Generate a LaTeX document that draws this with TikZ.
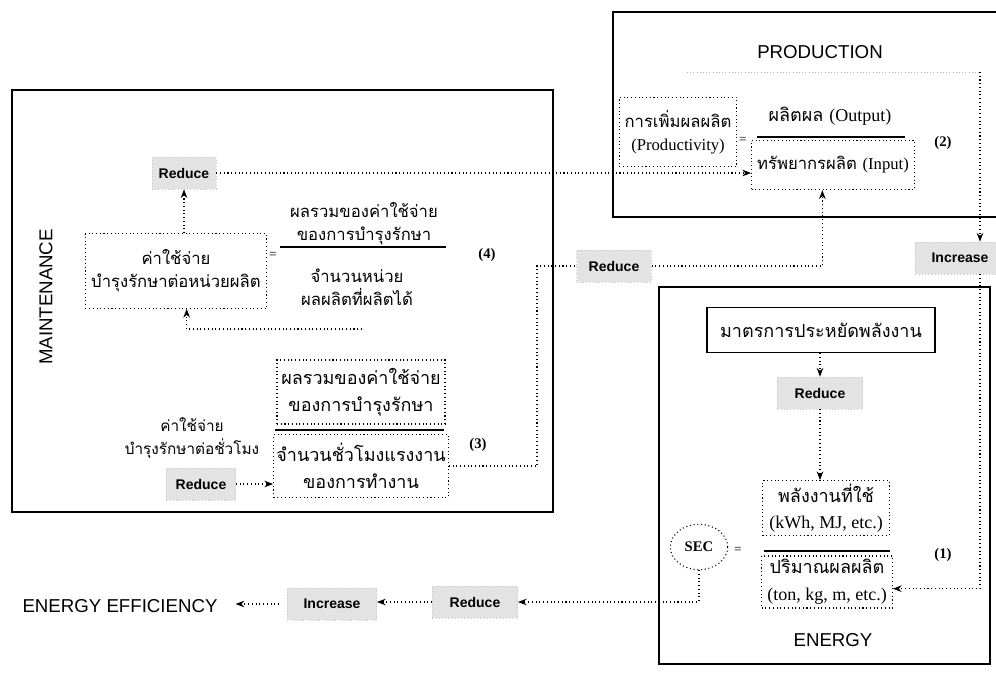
\documentclass[tikz,border=0pt]{standalone}
\usepackage{fontspec}
\setmainfont{Liberation Serif}
\newfontfamily\thai[Script=Thai]{Loma}
\newfontfamily\arial{Liberation Sans}
\usetikzlibrary{arrows.meta,shapes.geometric}
\begin{document}
\begin{tikzpicture}[x=0.75pt, y=-0.75pt, >=Stealth,
    frame/.style={draw, line width=1.2pt},
    title/.style={font=\arial\fontsize{14}{16}\selectfont},
    tag/.style={fill=gray!22, draw=gray!45, dotted, font=\arial\bfseries\fontsize{10.5}{12}\selectfont, minimum height=24pt},
    dbox/.style={draw, dotted, thick, align=center, inner sep=2pt},
    txt/.style={align=center, font=\thai\fontsize{12.5}{17}\selectfont},
    txtl/.style={align=center, font=\thai\fontsize{13.5}{20}\selectfont},
    txts/.style={align=center, font=\thai\fontsize{11.5}{17}\selectfont},
    num/.style={font=\bfseries\fontsize{11}{13}\selectfont},
    link/.style={->, dotted, thick}]
    \useasboundingbox (0,0) rectangle (996,676);

    % Frames
    \draw[frame] (613,12) rectangle (1010,217);
    \draw[frame] (12,90) rectangle (553,512);
    \draw[frame] (659,287) rectangle (990,664);

    % Production
    \node[title] (ptitle) at (820,52) {PRODUCTION};
    \node[dbox, txt, minimum width=88pt, minimum height=52pt] (pvty) at (678,132) {การเพิ่มผลผลิต\\{\rmfamily (Productivity)}};
    \node (peq) at (743,140) {=};
    \node[txtl] (pout) at (830,116) {ผลิตผล {\rmfamily (Output)}};
    \draw[line width=1.5pt] (757,137) -- (905,137);
    \node[dbox, txt, minimum width=122pt, minimum height=37pt] (pin) at (833,165) {ทรัพยากรผลิต {\rmfamily (Input)}};
    \node[num] (pno) at (943,143) {(2)};

    % Maintenance, cost per unit
    \node[title, rotate=90] (mtitle) at (46,297) {MAINTENANCE};
    \node[tag, minimum width=48pt] (mred1) at (184,173) {Reduce};
    \node[dbox, txt, minimum width=136pt, minimum height=56pt] (mcost) at (176,271) {ค่าใช้จ่าย\\บำรุงรักษาต่อหน่วยผลิต};
    \node (meq) at (273,255) {=};
    \node[txt] (mnum4) at (364,224) {ผลรวมของค่าใช้จ่าย\\ของการบำรุงรักษา};
    \draw[line width=1.5pt] (280,247) -- (446,247);
    \node[txt] (mden4) at (357,287) {จำนวนหน่วย\\ผลผลิตที่ผลิตได้};
    \node[num] (mno4) at (487,255) {(4)};
    \coordinate (mloop) at (362,329);
    \draw[link] (mloop) -| ([xshift=8pt]mcost.south);
    \draw[link] (mred1.south |- mcost.north) -- (mred1.south);

    % Maintenance, cost per hour
    \node[dbox, txtl, minimum width=126pt, minimum height=48pt] (mnum3) at (361,392) {ผลรวมของค่าใช้จ่าย\\ของการบำรุงรักษา};
    \draw[line width=1.5pt] (275,430) -- (444,430);
    \node[dbox, txtl, minimum width=130pt, minimum height=47pt] (mden3) at (361,466) {จำนวนชั่วโมงแรงงาน\\ของการทำงาน};
    \node[num] (mno3) at (478,445) {(3)};
    \node[txts] (mhour) at (192,438) {ค่าใช้จ่าย\\บำรุงรักษาต่อชั่วโมง};
    \node[tag, minimum width=52pt] (mred2) at (201,484) {Reduce};
    \draw[link] (mred2) -- (mred2 -| mden3.west);

    % Links to production
    \node[tag, minimum width=56pt] (red2) at (614,266) {Reduce};
    \coordinate (mturn) at (537,266);
    \draw[dotted, thick] (mden3.east) -| (mturn) -- (red2.west);
    \draw[link] (red2.east) -| ([xshift=-8pt]pin.south);
    \draw[link] (mred1.east) -- (mred1.east -| pin.west);

    % Energy
    \node[draw, thick, txtl, minimum width=171pt, minimum height=34pt] (esave) at (821,330) {มาตรการประหยัดพลังงาน};
    \node[tag, minimum width=64pt] (ered) at (820,393) {Reduce};
    \draw[link] (esave.south -| ered) -- (ered.north);
    \node[dbox, txtl, minimum width=95pt, minimum height=41pt] (euse) at (826,508) {พลังงานที่ใช้\\{\rmfamily (kWh, MJ, etc.)}};
    \draw[link] (ered.south) -- (ered.south |- euse.north);
    \draw[line width=1.5pt] (764,551) -- (890,551);
    \node[dbox, txtl, minimum width=98pt, minimum height=39pt] (eqty) at (827,582) {ปริมาณผลผลิต\\{\rmfamily (ton, kg, m, etc.)}};
    \node[num] (eno) at (943,555) {(1)};
    \node[draw, dotted, thick, ellipse, minimum width=43pt, minimum height=34pt, font=\bfseries\fontsize{11}{13}\selectfont] (sec) at (699,547) {SEC};
    \node (eeq) at (738,550) {=};
    \node[title] (etitle) at (833,640) {ENERGY};

    % Output increase feeds the energy ratio
    \node[tag, minimum width=67pt] (inc1) at (960,258) {Increase};
    \coordinate (ptop) at (687,72);
    \coordinate (pcorner) at (980,72);
    \draw[dotted, gray!60] (ptop) -- (pcorner);
    \draw[link] (pcorner) -- (pcorner |- inc1.north);
    \draw[link] (pcorner |- inc1.south) |- ([yshift=-5pt]eqty.east);

    % Energy efficiency chain
    \node[tag, minimum width=64pt] (bred) at (475,602) {Reduce};
    \node[tag, minimum width=67pt] (binc) at (332,604) {Increase};
    \node[title] (eff) at (120,606) {ENERGY EFFICIENCY};
    \draw[link] (sec.south) |- (bred.east);
    \draw[link] (bred.west) -- (bred.west -| binc.east);
    \draw[link, shorten <=6pt, shorten >=10pt] (binc.west) -- (binc.west -| eff.east);
\end{tikzpicture}
\end{document}
